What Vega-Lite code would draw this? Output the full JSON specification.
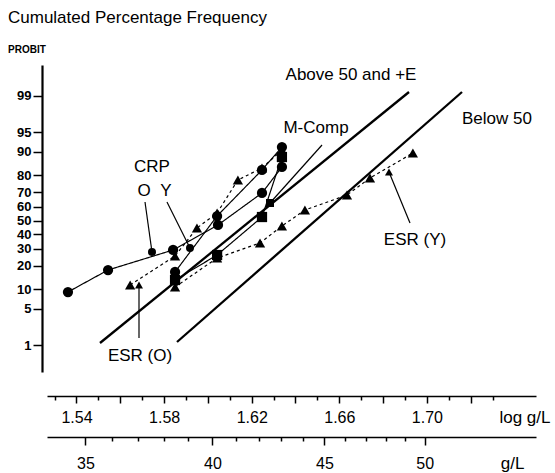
{
  "$schema": "https://vega.github.io/schema/vega-lite/v6.json",
  "width": 489,
  "height": 307,
  "autosize": "none",
  "padding": {"left": 47, "top": 65, "right": 19, "bottom": 101},
  "background": "white",
  "config": {
    "view": {"stroke": null},
    "font": "Liberation Sans",
    "axis": {"domainColor": "black", "tickColor": "black", "labelColor": "black", "titleColor": "black", "grid": false}
  },
  "title": {
    "text": "Cumulated Percentage Frequency",
    "subtitle": "PROBIT",
    "anchor": "start",
    "frame": "group",
    "dx": -39,
    "offset": 9,
    "fontSize": 17,
    "fontWeight": "normal",
    "color": "black",
    "subtitleFontSize": 10,
    "subtitleFontWeight": "bold",
    "subtitleColor": "black",
    "subtitlePadding": 18
  },
  "datasets": {
    "refs": [
      {"line": "Above 50 and +E", "v": 1.55073, "z": -2.289},
      {"line": "Above 50 and +E", "v": 1.69183, "z": 2.401},
      {"line": "Below 50", "v": 1.58589, "z": -2.270},
      {"line": "Below 50", "v": 1.71603, "z": 2.401}
    ],
    "series": [
      {"series": "CRP (O)", "v": 1.5361, "z": -1.336},
      {"series": "CRP (O)", "v": 1.5544, "z": -0.925},
      {"series": "CRP (O)", "v": 1.5841, "z": -0.551},
      {"series": "CRP (O)", "v": 1.6046, "z": -0.084},
      {"series": "CRP (O)", "v": 1.6247, "z": 0.514},
      {"series": "CRP (O)", "v": 1.6338, "z": 1.000},
      {"series": "CRP (Y)", "v": 1.5850, "z": -0.962},
      {"series": "CRP (Y)", "v": 1.6042, "z": 0.084},
      {"series": "CRP (Y)", "v": 1.6247, "z": 0.944},
      {"series": "CRP (Y)", "v": 1.6338, "z": 1.373},
      {"series": "ESR (O)", "v": 1.5645, "z": -1.205},
      {"series": "ESR (O)", "v": 1.5850, "z": -0.664},
      {"series": "ESR (O)", "v": 1.5950, "z": -0.140},
      {"series": "ESR (O)", "v": 1.6042, "z": 0.140},
      {"series": "ESR (O)", "v": 1.6137, "z": 0.757},
      {"series": "ESR (O)", "v": 1.6247, "z": 0.981},
      {"series": "ESR (O)", "v": 1.6338, "z": 1.317},
      {"series": "ESR (Y)", "v": 1.5850, "z": -1.243},
      {"series": "ESR (Y)", "v": 1.6042, "z": -0.701},
      {"series": "ESR (Y)", "v": 1.6238, "z": -0.420},
      {"series": "ESR (Y)", "v": 1.6338, "z": -0.103},
      {"series": "ESR (Y)", "v": 1.6443, "z": 0.196},
      {"series": "ESR (Y)", "v": 1.6635, "z": 0.476},
      {"series": "ESR (Y)", "v": 1.6740, "z": 0.794},
      {"series": "ESR (Y)", "v": 1.6936, "z": 1.261},
      {"series": "M-Comp", "v": 1.5850, "z": -1.112},
      {"series": "M-Comp", "v": 1.6042, "z": -0.645},
      {"series": "M-Comp", "v": 1.6247, "z": 0.065},
      {"series": "M-Comp", "v": 1.6338, "z": 1.186}
    ],
    "labels": [
      {"text": "Above 50 and +E", "v": 1.66534, "z": 2.719},
      {"text": "Below 50", "v": 1.73201, "z": 1.896},
      {"text": "M-Comp", "v": 1.64936, "z": 1.728},
      {"text": "CRP", "v": 1.57447, "z": 1.000},
      {"text": "O", "v": 1.57082, "z": 0.551},
      {"text": "Y", "v": 1.58087, "z": 0.551},
      {"text": "ESR (O)", "v": 1.56900, "z": -2.532},
      {"text": "ESR (Y)", "v": 1.69457, "z": -0.364}
    ],
    "arrows": [
      {"label": "O", "v": 1.57128, "z": 0.346, "v2": 1.57447, "z2": -0.589},
      {"label": "Y", "v": 1.58132, "z": 0.346, "v2": 1.59182, "z2": -0.514},
      {"label": "ESR (O)", "v": 1.56854, "z": -2.195, "v2": 1.56854, "z2": -1.205},
      {"label": "M-Comp", "v": 1.65211, "z": 1.411, "v2": 1.62836, "z2": 0.327},
      {"label": "ESR (Y)", "v": 1.69228, "z": -0.047, "v2": 1.68269, "z2": 0.906}
    ],
    "gl": [{"gl": 35}, {"gl": 50}]
  },
  "layer": [
    {
      "encoding": {
        "x": {
          "field": "v", "type": "quantitative",
          "scale": {"domain": [1.52653, 1.74982], "nice": false, "zero": false},
          "axis": {
            "orient": "bottom", "offset": 24,
            "values": [1.53, 1.54, 1.55, 1.56, 1.57, 1.58, 1.59, 1.6, 1.61, 1.62, 1.63, 1.64, 1.65, 1.66, 1.67, 1.68, 1.69, 1.7, 1.71, 1.72, 1.73],
            "labelExpr": "round(datum.value*100) % 4 == 2 ? format(datum.value, '.2f') : ''",
            "tickSize": {"condition": {"test": "round(datum.value*100) % 2 == 0", "value": 7}, "value": 4},
            "tickWidth": 1.5,
            "domainWidth": 1.5,
            "labelFontSize": 16,
            "labelPadding": 6,
            "labelFlush": false,
            "labelOverlap": false,
            "title": "log g/L",
            "titleFontSize": 17,
            "titleFontWeight": "normal",
            "titleAlign": "right",
            "titleAnchor": null,
            "titleX": 503,
            "titleY": 13,
            "titleBaseline": "top"
          }
        },
        "y": {
          "field": "z", "type": "quantitative",
          "scale": {"domain": [-2.8307, 2.9055], "nice": false, "zero": false},
          "axis": {
            "orient": "left", "offset": 5,
            "values": [-2.3263, -1.6449, -1.2816, -0.8416, -0.5244, -0.2533, 0, 0.2533, 0.5244, 0.8416, 1.2816, 1.6449, 2.3263],
            "labelExpr": "datum.value < -2 ? '1' : datum.value < -1.5 ? '5' : datum.value < -1 ? '10' : datum.value < -0.7 ? '20' : datum.value < -0.4 ? '30' : datum.value < -0.1 ? '40' : datum.value < 0.1 ? '50' : datum.value < 0.4 ? '60' : datum.value < 0.7 ? '70' : datum.value < 1 ? '80' : datum.value < 1.5 ? '90' : datum.value < 2 ? '95' : '99'",
            "tickSize": 9,
            "tickWidth": 1.5,
            "domainWidth": 2.2,
            "labelFontSize": 13,
            "labelFontWeight": "bold",
            "labelPadding": 2,
            "labelOverlap": false,
            "labelFlush": false,
            "title": null
          }
        }
      },
      "layer": [
        {
          "data": {"name": "refs"},
          "mark": {"type": "line", "color": "black", "strokeWidth": 2.3},
          "encoding": {"detail": {"field": "line"}}
        },
        {
          "data": {"name": "series"},
          "mark": {"type": "line", "color": "black", "strokeWidth": 1.2},
          "encoding": {
            "detail": {"field": "series"},
            "strokeDash": {
              "field": "series", "type": "nominal",
              "scale": {"domain": ["CRP (O)", "CRP (Y)", "ESR (O)", "ESR (Y)", "M-Comp"], "range": [[1, 0], [1, 0], [3, 3], [3, 3], [1, 0]]},
              "legend": null
            }
          }
        },
        {
          "data": {"name": "series"},
          "mark": {"type": "point", "filled": true, "color": "black", "opacity": 1},
          "encoding": {
            "shape": {
              "field": "series", "type": "nominal",
              "scale": {"domain": ["CRP (O)", "CRP (Y)", "ESR (O)", "ESR (Y)", "M-Comp"], "range": ["circle", "circle", "triangle-up", "triangle-up", "square"]},
              "legend": null
            },
            "size": {
              "field": "series", "type": "nominal",
              "scale": {"domain": ["CRP (O)", "CRP (Y)", "ESR (O)", "ESR (Y)", "M-Comp"], "range": [105, 105, 140, 140, 95]},
              "legend": null
            }
          }
        },
        {
          "data": {"name": "arrows"},
          "mark": {"type": "rule", "color": "black", "strokeWidth": 1.2},
          "encoding": {
            "x2": {"field": "v2"},
            "y2": {"field": "z2"}
          }
        },
        {
          "data": {"name": "arrows"},
          "mark": {"type": "point", "filled": true, "color": "black", "opacity": 1, "size": 64},
          "encoding": {
            "x": {"field": "v2", "type": "quantitative"},
            "y": {"field": "z2", "type": "quantitative"},
            "shape": {
              "field": "label", "type": "nominal",
              "scale": {
                "domain": ["O", "Y", "ESR (O)", "M-Comp", "ESR (Y)"],
                "range": ["M0,0L-0.816,-1.501L0.372,-1.667Z", "M0,0L-1.252,-1.164L-0.178,-1.7Z", "M0,0L0.6,1.6L-0.6,1.6Z", "M0,0L0.62,-1.592L1.514,-0.792Z", "M0,0L1.163,1.249L0.055,1.707Z"]
              },
              "legend": null
            }
          }
        },
        {
          "data": {"name": "labels"},
          "mark": {"type": "text", "fontSize": 17, "color": "black", "align": "center", "baseline": "middle"},
          "encoding": {"text": {"field": "text"}}
        }
      ]
    },
    {
      "data": {"name": "gl"},
      "mark": {"type": "point", "opacity": 0},
      "encoding": {
        "x": {
          "field": "gl", "type": "quantitative",
          "scale": {"type": "log", "domain": [33.615, 56.211], "nice": false, "zero": false},
          "axis": {
            "orient": "bottom", "offset": 65,
            "values": [35, 36, 37, 38, 39, 40, 41, 42, 43, 44, 45, 46, 47, 48, 49, 50],
            "labelExpr": "datum.value % 5 == 0 ? format(datum.value, 'd') : ''",
            "tickSize": {"condition": {"test": "datum.value % 5 == 0", "value": 8}, "value": 4},
            "tickWidth": 1.5,
            "domainWidth": 1.5,
            "labelFontSize": 16,
            "labelPadding": 10,
            "labelFlush": false,
            "labelOverlap": false,
            "title": "g/L",
            "titleFontSize": 17,
            "titleFontWeight": "normal",
            "titleAlign": "right",
            "titleAnchor": null,
            "titleX": 477,
            "titleY": 18,
            "titleBaseline": "top"
          }
        }
      }
    }
  ],
  "resolve": {"scale": {"x": "independent"}, "axis": {"x": "independent"}}
}
